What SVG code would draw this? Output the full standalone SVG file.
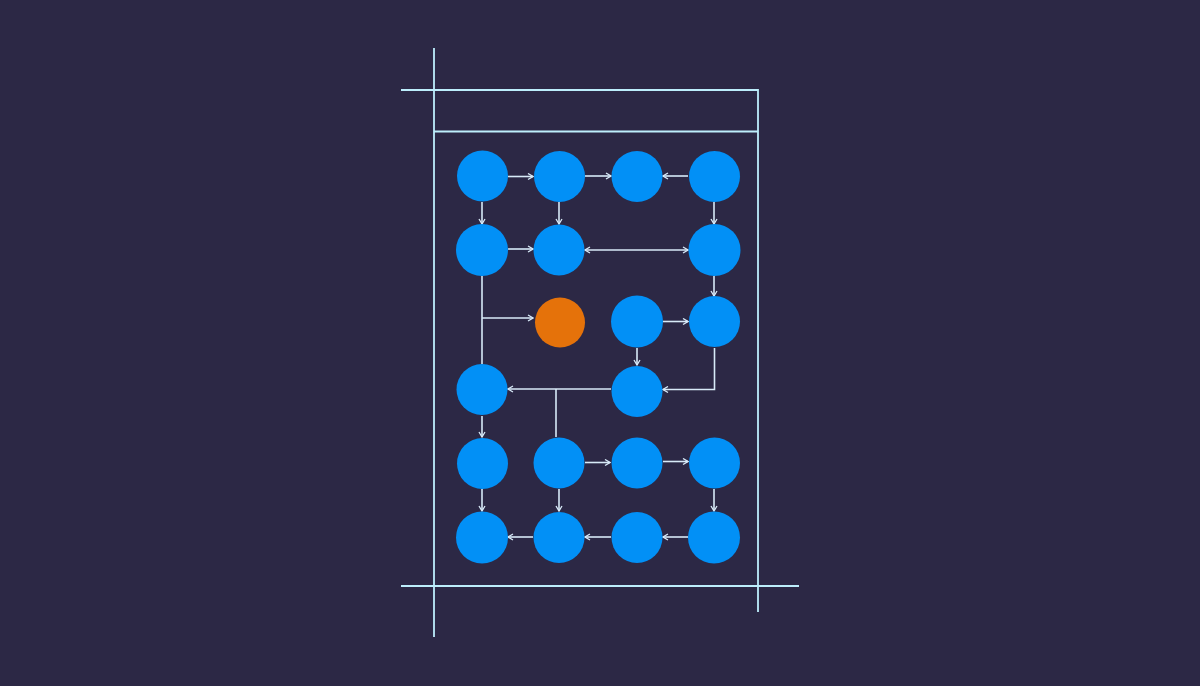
<svg xmlns="http://www.w3.org/2000/svg" width="1200" height="686" viewBox="0 0 1200 686">
<style>
.frame{stroke:#bdeefc;stroke-width:1.8;fill:none}
.c{fill:#0290f6}
.o{fill:#e5720a}
.e{stroke:#d8eaf8;stroke-width:1.6;fill:none}
.a{marker-end:url(#ah)}
.s{marker-start:url(#as)}
</style>
<defs>
<marker id="ah" viewBox="0 0 8 8" refX="7" refY="4" markerWidth="8" markerHeight="8" markerUnits="userSpaceOnUse" orient="auto">
<path d="M2,1 L7,4 L2,7" fill="none" stroke="#d8eaf8" stroke-width="1.3"/>
</marker>
<marker id="as" viewBox="0 0 8 8" refX="1" refY="4" markerWidth="8" markerHeight="8" markerUnits="userSpaceOnUse" orient="auto">
<path d="M6,1 L1,4 L6,7" fill="none" stroke="#d8eaf8" stroke-width="1.3"/>
</marker>
</defs>
<rect width="1200" height="686" fill="#2c2845"/>
<g id="frame">
<line class="frame" x1="434" y1="48" x2="434" y2="637"/>
<polyline class="frame" points="401,90 758,90 758,612"/>
<line class="frame" x1="434" y1="131.5" x2="758" y2="131.5"/>
<line class="frame" x1="401" y1="586" x2="799" y2="586"/>
</g>
<g id="connectors">
<line class="e a" x1="508" y1="176.5" x2="533" y2="176.5"/>
<line class="e a" x1="585" y1="176" x2="611" y2="176"/>
<line class="e a" x1="688" y1="176" x2="663" y2="176"/>
<line class="e a" x1="482" y1="202" x2="482" y2="224"/>
<line class="e a" x1="559" y1="202" x2="559" y2="224"/>
<line class="e a" x1="714" y1="202" x2="714" y2="224"/>
<line class="e a" x1="508" y1="249" x2="533" y2="249"/>
<line class="e a s" x1="585" y1="250" x2="688" y2="250"/>
<line class="e a" x1="714" y1="276" x2="714" y2="296"/>
<line class="e" x1="482" y1="276" x2="482" y2="364"/>
<line class="e a" x1="482" y1="318" x2="533" y2="318"/>
<line class="e a" x1="663" y1="321.5" x2="688" y2="321.5"/>
<line class="e a" x1="637" y1="348" x2="637" y2="365"/>
<polyline class="e a" points="714.5,348 714.5,389.5 663,389.5"/>
<line class="e a" x1="611" y1="389" x2="508" y2="389"/>
<line class="e" x1="556" y1="389" x2="556" y2="437"/>
<line class="e a" x1="482" y1="416" x2="482" y2="437"/>
<line class="e a" x1="585" y1="462.5" x2="610" y2="462.5"/>
<line class="e a" x1="663" y1="461.5" x2="688" y2="461.5"/>
<line class="e a" x1="482" y1="489" x2="482" y2="511"/>
<line class="e a" x1="559" y1="489" x2="559" y2="511"/>
<line class="e a" x1="714" y1="489" x2="714" y2="511"/>
<line class="e a" x1="688" y1="537" x2="663" y2="537"/>
<line class="e a" x1="611" y1="537" x2="585" y2="537"/>
<line class="e a" x1="533" y1="537" x2="508" y2="537"/>
</g>
<g id="n-a1"><circle class="c" cx="482.5" cy="176" r="25.5"/></g>
<g id="n-a2"><circle class="c" cx="559.5" cy="176.5" r="25.5"/></g>
<g id="n-a3"><circle class="c" cx="637" cy="176.5" r="25.5"/></g>
<g id="n-a4"><circle class="c" cx="714.5" cy="176.5" r="25.5"/></g>
<g id="n-b1"><circle class="c" cx="482" cy="250" r="26"/></g>
<g id="n-b2"><circle class="c" cx="559" cy="250" r="25.5"/></g>
<g id="n-b4"><circle class="c" cx="714.5" cy="250" r="26"/></g>
<g id="n-c2"><circle class="o" cx="560" cy="322.5" r="25"/></g>
<g id="n-c3"><circle class="c" cx="637" cy="321.5" r="26"/></g>
<g id="n-c4"><circle class="c" cx="714.5" cy="321.5" r="25.5"/></g>
<g id="n-d1"><circle class="c" cx="482" cy="389.5" r="25.5"/></g>
<g id="n-d3"><circle class="c" cx="637" cy="391.5" r="25.5"/></g>
<g id="n-e1"><circle class="c" cx="482.5" cy="463.5" r="25.5"/></g>
<g id="n-e2"><circle class="c" cx="559" cy="463" r="25.5"/></g>
<g id="n-e3"><circle class="c" cx="637" cy="463" r="25.5"/></g>
<g id="n-e4"><circle class="c" cx="714.5" cy="463" r="25.5"/></g>
<g id="n-f1"><circle class="c" cx="482" cy="537.5" r="26"/></g>
<g id="n-f2"><circle class="c" cx="559" cy="537.5" r="25.5"/></g>
<g id="n-f3"><circle class="c" cx="637" cy="537.5" r="25.5"/></g>
<g id="n-f4"><circle class="c" cx="714" cy="537.5" r="26"/></g>
</svg>
